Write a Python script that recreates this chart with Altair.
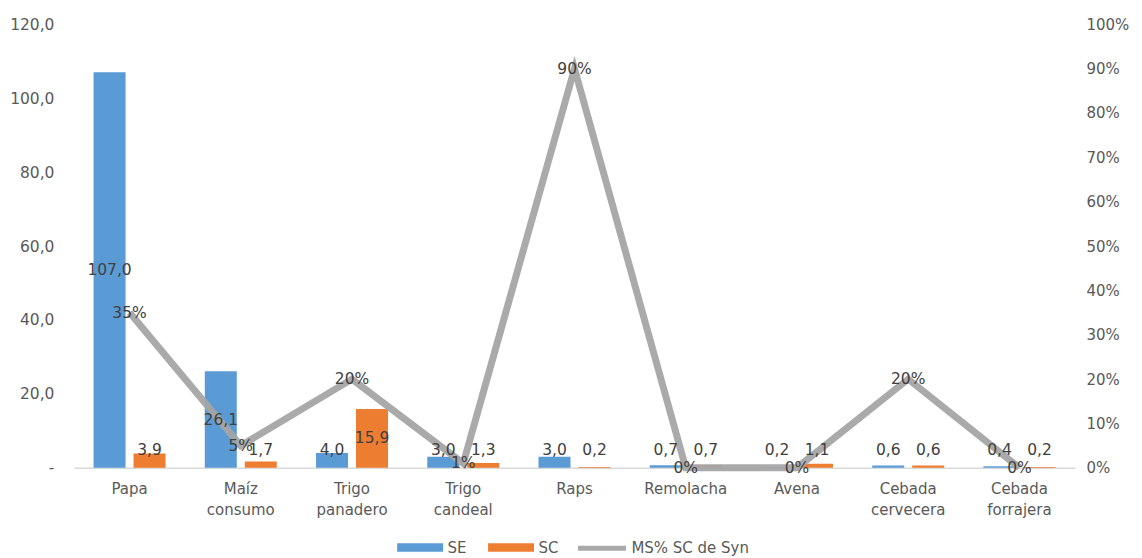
import altair as alt
import pandas as pd

categories = ["Papa", "Maíz consumo", "Trigo panadero", "Trigo candeal", "Raps",
              "Remolacha", "Avena", "Cebada cervecera", "Cebada forrajera"]
se_values = [107.0, 26.1, 4.0, 3.0, 3.0, 0.7, 0.2, 0.6, 0.4]
sc_values = [3.9, 1.7, 15.9, 1.3, 0.2, 0.7, 1.1, 0.6, 0.2]
ms_values = [0.35, 0.05, 0.20, 0.01, 0.90, 0.0, 0.0, 0.20, 0.0]
series = ["SE", "SC"]
line_name = "MS% SC de Syn"

bar_rows = []
for c, a, b in zip(categories, se_values, sc_values):
    bar_rows.append({"cat": c, "serie": "SE", "v": a})
    bar_rows.append({"cat": c, "serie": "SC", "v": b})
bars_df = pd.DataFrame(bar_rows)
line_df = pd.DataFrame({"cat": categories, "p": ms_values, "name": line_name})

FONT = "DejaVu Sans"
TXT = "#404040"
AX = "#595959"

x_enc = alt.X("cat:N", sort=categories, title=None,
              scale=alt.Scale(paddingInner=0, paddingOuter=0),
              axis=alt.Axis(labelExpr="split(datum.label, ' ')", labelAngle=0,
                            labelFont=FONT, labelFontSize=15, labelColor=AX,
                            labelPadding=14, labelLineHeight=21, ticks=False,
                            domainColor="#D9D9D9", domainWidth=1.5, labelBaseline="top"))
xoff = alt.XOffset("serie:N", sort=series,
                   scale=alt.Scale(paddingInner=0.2, paddingOuter=0.49))

left_scale = alt.Scale(domain=[0, 120])
right_scale = alt.Scale(domain=[0, 1])

bars = alt.Chart(bars_df).mark_bar().encode(
    x=x_enc, xOffset=xoff,
    y=alt.Y("v:Q", scale=left_scale, title=None,
            axis=alt.Axis(values=[0, 20, 40, 60, 80, 100, 120], grid=False, ticks=False,
                          domain=False, labelFont=FONT, labelFontSize=15.5, labelColor=AX,
                          labelPadding=20,
                          labelExpr="datum.value == 0 ? '-' : replace(format(datum.value, '.1f'), '.', ',')")),
    color=alt.Color("serie:N", sort=series,
                    scale=alt.Scale(domain=series, range=["#5B9BD5", "#ED7D31"]),
                    legend=alt.Legend(title=None, orient="none", direction="horizontal",
                                      legendX=336, legendY=513, padding=0,
                                      symbolType="M-2.2,-0.4L2.2,-0.4L2.2,0.4L-2.2,0.4Z",
                                      symbolSize=437, symbolOpacity=1, symbolStrokeWidth=0,
                                      labelOffset=17, columnPadding=21,
                                      labelFont=FONT, labelFontSize=15, labelColor=AX)),
)

bar_text = alt.Chart(bars_df).transform_calculate(
    lab="replace(format(datum.v, '.1f'), '.', ',')",
    pos="max(datum.v / 2, 4.9)",
).mark_text(font=FONT, fontSize=15.5, color=TXT).encode(
    x=alt.X("cat:N", sort=categories), xOffset=xoff,
    y=alt.Y("pos:Q", scale=left_scale, axis=None),
    text="lab:N",
)

line = alt.Chart(line_df).mark_line(strokeWidth=7, opacity=0.95).encode(
    x=alt.X("cat:N", sort=categories),
    y=alt.Y("p:Q", scale=right_scale, title=None,
            axis=alt.Axis(orient="right", format="%", values=[i / 10 for i in range(11)],
                          grid=False, ticks=False, domain=False, labelFont=FONT,
                          labelFontSize=15, labelColor=AX, labelPadding=11)),
    stroke=alt.Stroke("name:N", scale=alt.Scale(domain=[line_name], range=["#A5A5A5"]),
                      legend=alt.Legend(title=None, orient="none", legendX=502, legendY=498,
                                        padding=0, symbolType="stroke",
                                        symbolStrokeWidth=5, symbolSize=2304, labelOffset=3,
                                        labelFont=FONT, labelFontSize=15, labelColor=AX)),
)

line_text = alt.Chart(line_df).mark_text(font=FONT, fontSize=15.5, color=TXT).encode(
    x=alt.X("cat:N", sort=categories),
    y=alt.Y("p:Q", scale=right_scale, axis=None),
    text=alt.Text("p:Q", format=".0%"),
)

chart = alt.layer(bars, line, bar_text, line_text).resolve_scale(
    y="independent", color="independent"
).properties(
    width=1002, height=444,
    padding={"left": 1, "top": 9, "right": 5, "bottom": 2},
).configure_view(stroke=None)

chart.save("out.html", embed_options={"renderer": "svg", "actions": False})
